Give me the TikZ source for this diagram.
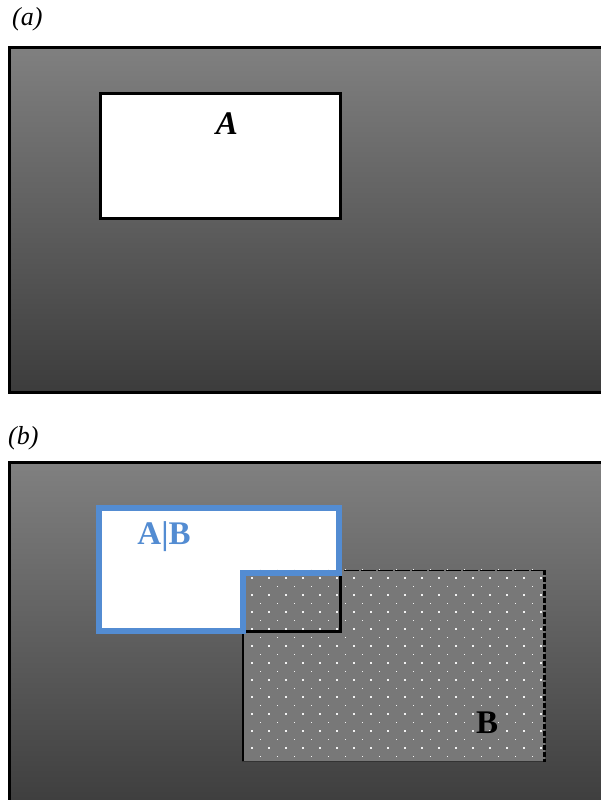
\documentclass[tikz,border=0pt]{standalone}
\usepackage{fontspec}
\setmainfont{Liberation Serif}
\definecolor{bluex}{RGB}{83,140,210}
\definecolor{topg}{RGB}{128,128,128}
\definecolor{botg}{RGB}{60,60,60}
\definecolor{bgray}{RGB}{120,120,120}
\tikzset{
  panel/.style={draw=black, line width=3pt, top color=topg, bottom color=botg},
  plabel/.style={font=\fontsize{26}{26}\selectfont\itshape, anchor=west, inner sep=0pt},
  abox/.style={draw=black, line width=3pt, fill=white},
  bigtxt/.style={font=\fontsize{33}{33}\selectfont\bfseries, inner sep=0pt}
}
\begin{document}
\begin{tikzpicture}[x=1pt,y=-1pt]
\useasboundingbox (0,0) rectangle (601,800);
\begin{scope}
\clip (0,0) rectangle (601,800);
% panel (a)
\draw[panel] (9.5,47.5) rectangle (615,392.5);
\draw[abox] (100.5,93.5) rectangle (340,218);
\node[bigtxt, font=\fontsize{33}{33}\selectfont\bfseries\itshape] (A) at (227,124) {A};
\node[plabel] (la) at (12,19) {(a)};
% panel (b)
\draw[panel] (9.5,462.5) rectangle (615,815);
\node[plabel] (lb) at (8,438) {(b)};
% white A region
\fill[white] (98.5,508) -- (339,508) -- (339,573) -- (242.5,573) -- (242.5,631) -- (98.5,631) -- cycle;
% B
\fill[bgray] (242,570) rectangle (545,762);
\begin{scope}
\clip (242,569) rectangle (546,762);
\foreach \j in {0,...,23}{
  \pgfmathsetmacro{\yy}{569.5+8.5*\j}
  \pgfmathsetmacro{\xs}{isodd(\j) ? 252 : 260.5}
  \foreach \k in {0,...,18}{
    \fill[white!90!gray] ({\xs+17*\k-0.9},{\yy-0.9}) rectangle ++(1.8,1.8);
  }
}
\end{scope}
% B border
\draw[black, line width=2pt] (242.5,570) -- (242.5,762);
\draw[black!80, line width=1.2pt] (242,761.5) -- (545,761.5);
\draw[black, line width=1.5pt, dash pattern=on 15pt off 2pt] (242,570.5) -- (545,570.5);
\draw[black, line width=2.5pt, dash pattern=on 5pt off 2pt] (544.5,570) -- (544.5,762);
% A border in overlap
\draw[black, line width=3pt] (340,573) -- (340,631.5) -- (242,631.5);
% blue outline
\draw[bluex, line width=6pt, line join=miter] (98.5,508) -- (339,508) -- (339,573) -- (242.5,573) -- (242.5,631) -- (98.5,631) -- cycle;
\node[bigtxt, text=bluex] (AB) at (164,537) {A|B};
\node[bigtxt] (B) at (487,723) {B};
\end{scope}
\end{tikzpicture}
\end{document}
